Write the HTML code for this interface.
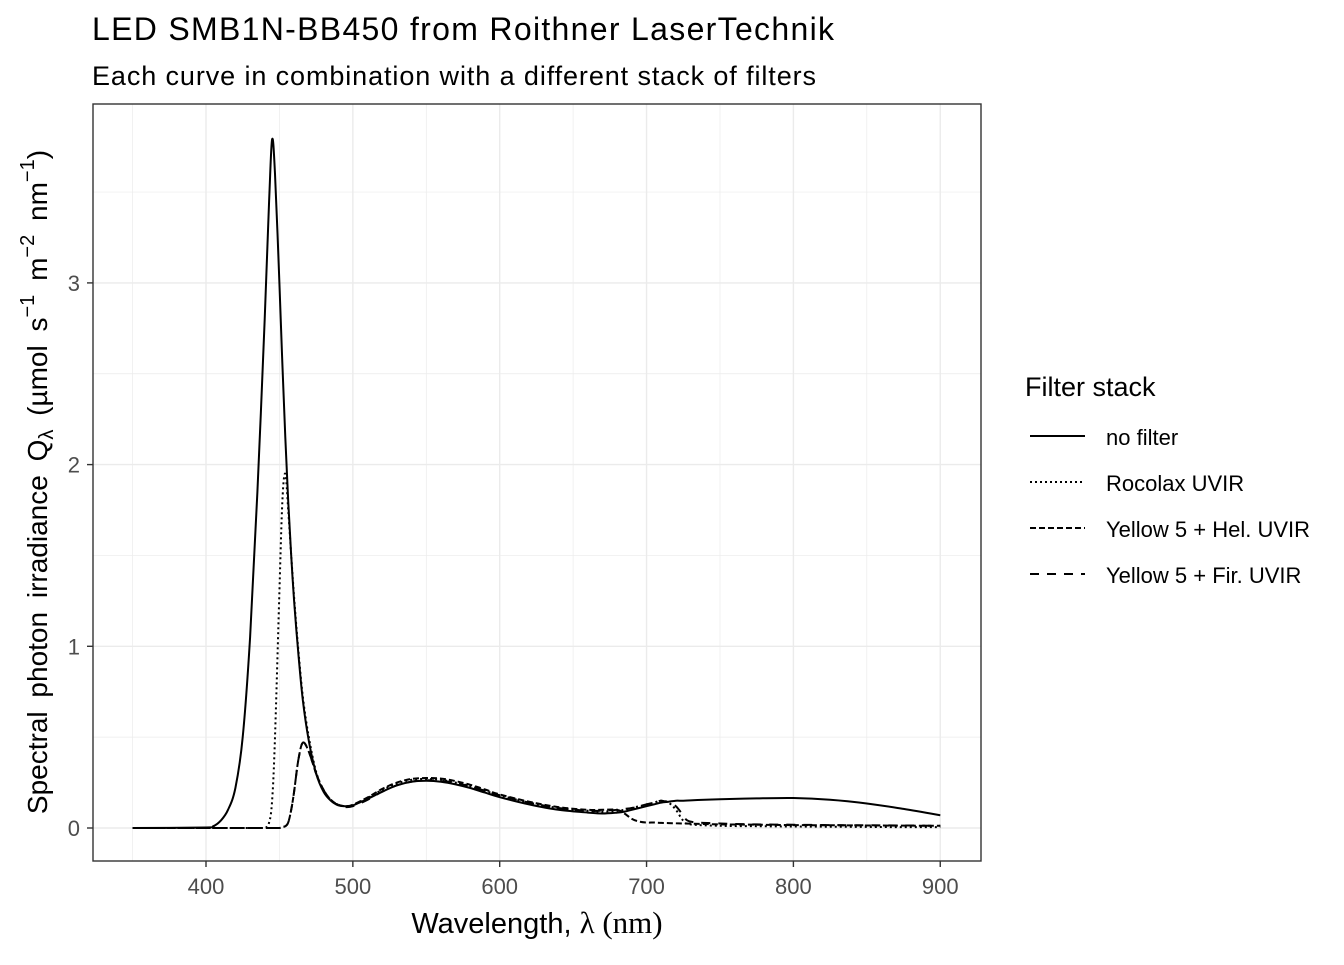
<!DOCTYPE html>
<html><head><meta charset="utf-8"><style>
body{margin:0;background:#fff;}
svg text{font-family:"Liberation Sans",sans-serif;}
</style></head><body>
<svg id="chart" width="1344" height="960" xmlns="http://www.w3.org/2000/svg">
<text x="92" y="40" font-size="32" fill="#000" textLength="742">LED SMB1N-BB450 from Roithner LaserTechnik</text>
<text x="92" y="85" font-size="27" fill="#000" textLength="724">Each curve in combination with a different stack of filters</text>
<g id="grid"></g>
<g id="series"></g>
<rect x="93" y="104" width="888" height="757" fill="none" stroke="#333" stroke-width="1.4"/>
<g id="axes"></g>
<text x="537" y="933" font-size="29" text-anchor="middle">Wavelength, <tspan font-family="Liberation Serif,serif" font-size="31">λ (nm)</tspan></text>
<text transform="translate(47,482) rotate(-90)" font-size="28" text-anchor="middle" word-spacing="6">Spectral  photon  irradiance  Q<tspan font-size="20" dy="6">λ</tspan><tspan dy="-6">  (µmol s</tspan><tspan font-size="20" dy="-13">−1</tspan><tspan dy="13"> m</tspan><tspan font-size="20" dy="-13">−2</tspan><tspan dy="13"> nm</tspan><tspan font-size="20" dy="-13">−1</tspan><tspan dy="13">)</tspan></text>
<g>
<text x="1025" y="396" font-size="27">Filter stack</text>
<g id="legend-items"></g>
</g>
</svg>
<script>
const wavelengths=[350,400,405,410,415,420,425,430,435,440,443,445,447,450,452,454,456,458,460,463,466,470,475,480,485,490,495,500,510,520,530,540,550,560,570,580,590,600,620,640,660,670,680,685,690,695,700,705,710,715,720,725,730,750,775,800,825,850,875,900];
const noFilter=[0,0.003,0.01,0.04,0.1,0.22,0.5,1.05,1.85,2.8,3.45,3.79,3.6,3.0,2.55,2.15,1.8,1.5,1.25,0.95,0.7,0.48,0.3,0.2,0.15,0.125,0.12,0.125,0.16,0.2,0.235,0.255,0.26,0.255,0.24,0.22,0.195,0.17,0.13,0.1,0.085,0.08,0.085,0.09,0.1,0.11,0.12,0.13,0.14,0.145,0.15,0.15,0.152,0.158,0.163,0.165,0.155,0.135,0.105,0.07];
const rocolax=[0,0,0,0,0,0,0,0,0,0,0.03,0.15,0.5,1.3,1.8,1.95,1.75,1.5,1.27,0.97,0.72,0.5,0.31,0.21,0.155,0.128,0.12,0.127,0.165,0.21,0.245,0.265,0.27,0.265,0.25,0.23,0.205,0.18,0.14,0.11,0.095,0.09,0.095,0.1,0.11,0.12,0.13,0.14,0.15,0.14,0.1,0.04,0.02,0.012,0.01,0.008,0.007,0.006,0.005,0.005];
const yellowHel=[0,0,0,0,0,0,0,0,0,0,0,0,0,0,0.005,0.01,0.03,0.1,0.2,0.38,0.47,0.42,0.3,0.21,0.155,0.128,0.12,0.128,0.168,0.215,0.25,0.27,0.275,0.272,0.258,0.238,0.212,0.185,0.145,0.115,0.1,0.1,0.1,0.08,0.05,0.035,0.03,0.03,0.028,0.027,0.026,0.025,0.024,0.02,0.018,0.016,0.015,0.014,0.013,0.012];
const yellowFir=[0,0,0,0,0,0,0,0,0,0,0,0,0,0,0.005,0.01,0.03,0.1,0.2,0.38,0.47,0.42,0.3,0.21,0.155,0.125,0.115,0.12,0.155,0.2,0.235,0.255,0.262,0.26,0.248,0.228,0.205,0.18,0.14,0.11,0.095,0.095,0.1,0.105,0.11,0.12,0.13,0.14,0.15,0.14,0.12,0.07,0.035,0.025,0.02,0.018,0.016,0.015,0.014,0.012];
const xTicks=[400,500,600,700,800,900];
const yTicks=[0,1,2,3];
const seriesNames=["no filter","Rocolax UVIR","Yellow 5 + Hel. UVIR","Yellow 5 + Fir. UVIR"];
const NS="http://www.w3.org/2000/svg";
const xs=v=>206+(v-400)*1.4685;
const ys=v=>828-v*181.7;
const grid=document.getElementById('grid'),axes=document.getElementById('axes'),ser=document.getElementById('series'),leg=document.getElementById('legend-items');
function mk(tag,attrs,parent){const e=document.createElementNS(NS,tag);for(const k in attrs)e.setAttribute(k,attrs[k]);parent.appendChild(e);return e;}
mk('rect',{x:93,y:104,width:888,height:757,fill:'#fff'},grid);
for(let v=350;v<=900;v+=50){const major=v%100===0;const l=mk('line',{x1:xs(v),x2:xs(v),y1:104,y2:861,stroke:'#ebebeb','stroke-width':major?1.4:0.7},grid);

}
for(let v=0;v<=3.5;v+=0.5){const l=mk('line',{x1:93,x2:981,y1:ys(v),y2:ys(v),stroke:'#ebebeb','stroke-width':v%1===0?1.4:0.7},grid);

}
xTicks.forEach(t=>{mk('line',{x1:xs(t),x2:xs(t),y1:861,y2:867,stroke:'#333','stroke-width':1.4},axes);
const tx=mk('text',{x:xs(t),y:894,'font-size':22,fill:'#4d4d4d','text-anchor':'middle'},axes);tx.textContent=t;

});
yTicks.forEach(t=>{mk('line',{x1:87,x2:93,y1:ys(t),y2:ys(t),stroke:'#333','stroke-width':1.4},axes);
const tx=mk('text',{x:80,y:ys(t)+8,'font-size':22,fill:'#4d4d4d','text-anchor':'end'},axes);tx.textContent=t;

});
function smoothPath(px,py){let d='M'+px[0].toFixed(1)+','+py[0].toFixed(1);
for(let i=0;i<px.length-1;i++){const i0=Math.max(0,i-1),i3=Math.min(px.length-1,i+2);
let c1x=px[i]+(px[i+1]-px[i0])/6,c1y=py[i]+(py[i+1]-py[i0])/6;
let c2x=px[i+1]-(px[i3]-px[i])/6,c2y=py[i+1]-(py[i3]-py[i])/6;
c1y=Math.min(c1y,828);c2y=Math.min(c2y,828);
d+=' C'+c1x.toFixed(1)+','+c1y.toFixed(1)+' '+c2x.toFixed(1)+','+c2y.toFixed(1)+' '+px[i+1].toFixed(1)+','+py[i+1].toFixed(1);}
return d;}
const data=[noFilter,rocolax,yellowHel,yellowFir];
const dashes=["none","2,3","6,3","9,8"];
const names=["series-no-filter","series-rocolax-uvir","series-yellow5-hel-uvir","series-yellow5-fir-uvir"];
data.forEach((d,i)=>{const px=wavelengths.map(xs),py=d.map(ys);
const p=mk('path',{d:smoothPath(px,py),fill:'none',stroke:'#000','stroke-width':2,'stroke-dasharray':dashes[i],'stroke-linejoin':'round'},ser);


const y=436+i*46;
const k=mk('line',{x1:1030,x2:1085,y1:y,y2:y,stroke:'#000','stroke-width':2,'stroke-dasharray':dashes[i]},leg);


const t=mk('text',{x:1106,y:y+9,'font-size':22},leg);t.textContent=seriesNames[i];

});
</script>
</body></html>
